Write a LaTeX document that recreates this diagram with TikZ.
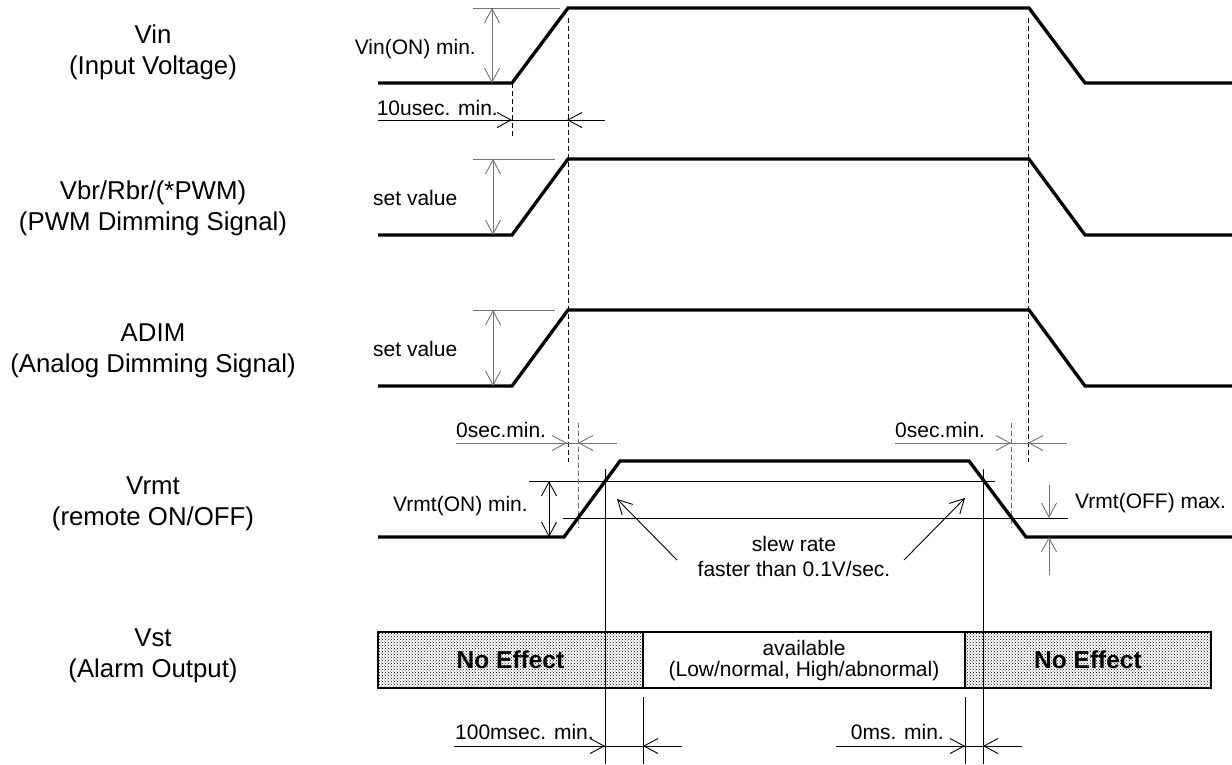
\documentclass[tikz,border=0pt]{standalone}
\usepackage{fontspec}
\setmainfont{Liberation Sans}
\usetikzlibrary{arrows.meta,patterns}
\newcommand\biglab{\fontsize{25.8}{31}\selectfont}
\newcommand\smlab{\fontsize{21}{26}\selectfont}
\begin{document}
\begin{tikzpicture}[x=1pt,y=-1pt,
  wave/.style={line width=3.3pt, line join=miter},
  thinline/.style={line width=0.9pt, black},
  greyline/.style={line width=0.9pt, black!55},
  dashline/.style={line width=0.9pt, dash pattern=on 5pt off 3pt, black},
  greydash/.style={line width=0.9pt, dash pattern=on 5pt off 3pt, black!55},
  dimtip/.tip={Straight Barb[length=14pt,width=15pt,line width=0.9pt]},
  barbox/.style={line width=2.2pt, black},
  noeff/.style={pattern=crosshatch dots, pattern color=black},
  lbl/.style={inner sep=0pt, font=\smlab},
  sidelbl/.style={align=center, inner sep=0pt, font=\biglab}
]
\useasboundingbox (0,0) rectangle (1232,764);

% ---- left labels
\node[sidelbl] (lvin)  at (153,52)  {Vin\\(Input Voltage)};
\node[sidelbl] (lvbr)  at (153,208) {Vbr/Rbr/(*PWM)\\(PWM Dimming Signal)};
\node[sidelbl] (ladim) at (153,351) {ADIM\\(Analog Dimming Signal)};
\node[sidelbl] (lvrmt) at (153,504) {Vrmt\\(remote ON/OFF)};
\node[sidelbl] (lvst)  at (153,656) {Vst\\(Alarm Output)};

% ---- reference / level lines
\draw[greyline] (473,8) -- (560,8);
\draw[greyline] (473,159) -- (555,159);
\draw[greyline] (473,310) -- (555,310);
\draw[thinline] (529,481) -- (995,481);
\draw[thinline] (563,518) -- (1068,518);

% ---- dashed timing lines
\draw[dashline] (512,83) -- (512,138);
\draw[dashline] (568,18) -- (568,462);
\draw[dashline] (1028,18) -- (1028,462);
\draw[greydash] (578,423) -- (578,528);
\draw[greydash] (1011,423) -- (1011,528);

% ---- waveforms
\draw[wave] (378,83) -- (512,83) -- (568,8) -- (1029,8) -- (1085,83) -- (1232,83);
\draw[wave] (378,235) -- (512,235) -- (568,159) -- (1029,159) -- (1085,235) -- (1232,235);
\draw[wave] (378,386) -- (512,386) -- (568,310) -- (1029,310) -- (1085,386) -- (1232,386);
\draw[wave] (378,537) -- (564,537) -- (620,461) -- (969,461) -- (1026,537) -- (1232,537);

% ---- amplitude dimensions
\draw[greyline,{dimtip}-{dimtip}] (492,8) -- (492,83);
\node[lbl,anchor=base east] (tvinon) at (476,54) {Vin(ON) min.};
\draw[greyline,{dimtip}-{dimtip}] (493,159) -- (493,235);
\node[lbl,anchor=base west] (tset1) at (373,205) {set value};
\draw[greyline,{dimtip}-{dimtip}] (493,310) -- (493,386);
\node[lbl,anchor=base west] (tset2) at (373,356) {set value};
\draw[thinline,{dimtip}-{dimtip}] (549,481) -- (549,537);
\node[lbl,anchor=base west] (tvrmton) at (393,511) {Vrmt(ON) min.};
\draw[greyline,-{dimtip}] (1049,485) -- (1049,518);
\draw[greyline,-{dimtip}] (1049,575) -- (1049,537);
\node[lbl,anchor=base west] (tvrmtoff) at (1075,508) {Vrmt(OFF) max.};

% ---- 10usec
\draw[thinline] (378,120) -- (605,120);
\draw[thinline,-{dimtip}] (490,120) -- (512,120);
\draw[thinline,-{dimtip}] (590,120) -- (567,120);
\node[lbl,anchor=base east] (t10u) at (498,115) {10usec. min.};

% ---- 0sec left / right
\draw[greyline] (456,443) -- (617,443);
\draw[greyline,-{dimtip}] (545,443) -- (567,443);
\draw[greyline,-{dimtip}] (600,443) -- (578,443);
\node[lbl,anchor=base west] (t0s1) at (456,437) {0sec.min.};
\draw[greyline] (895,443) -- (1067,443);
\draw[greyline,-{dimtip}] (990,443) -- (1011,443);
\draw[greyline,-{dimtip}] (1050,443) -- (1028,443);
\node[lbl,anchor=base west] (t0s2) at (895,437) {0sec.min.};

% ---- slew rate
\node[lbl,anchor=base] (tslew1) at (794,551) {slew rate};
\node[lbl,anchor=base] (tslew2) at (794,576) {faster than 0.1V/sec.};
\draw[thinline,-{dimtip}] (677,560) -- (617,499);
\draw[thinline,-{dimtip}] (904,560) -- (965,498);

% ---- Vst bar
\draw[barbox,noeff] (378,632) rectangle (643,688);
\draw[barbox] (643,632) rectangle (965,688);
\draw[barbox,noeff] (965,632) rectangle (1211,688);
\node[inner sep=0pt,font=\fontsize{24.5}{28}\selectfont\bfseries] (ne1) at (510.5,660) {No Effect};
\node[inner sep=0pt,font=\fontsize{24.5}{28}\selectfont\bfseries] (ne2) at (1088,660) {No Effect};
\node[lbl,anchor=base] (tav1) at (804,655) {available};
\node[lbl,anchor=base] (tav2) at (804,676) {(Low/normal, High/abnormal)};

% ---- vertical timing lines
\draw[thinline] (605,469) -- (605,764);
\draw[thinline] (983,469) -- (983,764);
\draw[thinline] (643,697) -- (643,764);
\draw[thinline] (965,697) -- (965,764);

% ---- bottom dimensions
\draw[thinline] (454,746) -- (682,746);
\draw[thinline,-{dimtip}] (585,746) -- (605,746);
\draw[thinline,-{dimtip}] (663,746) -- (643,746);
\node[lbl,anchor=base west] (t100) at (455,739) {100msec. min.};
\draw[thinline] (836,746) -- (1022,746);
\draw[thinline,-{dimtip}] (945,746) -- (965,746);
\draw[thinline,-{dimtip}] (1003,746) -- (983,746);
\node[lbl,anchor=base east] (t0ms) at (944,739) {0ms. min.};
\end{tikzpicture}
\end{document}
